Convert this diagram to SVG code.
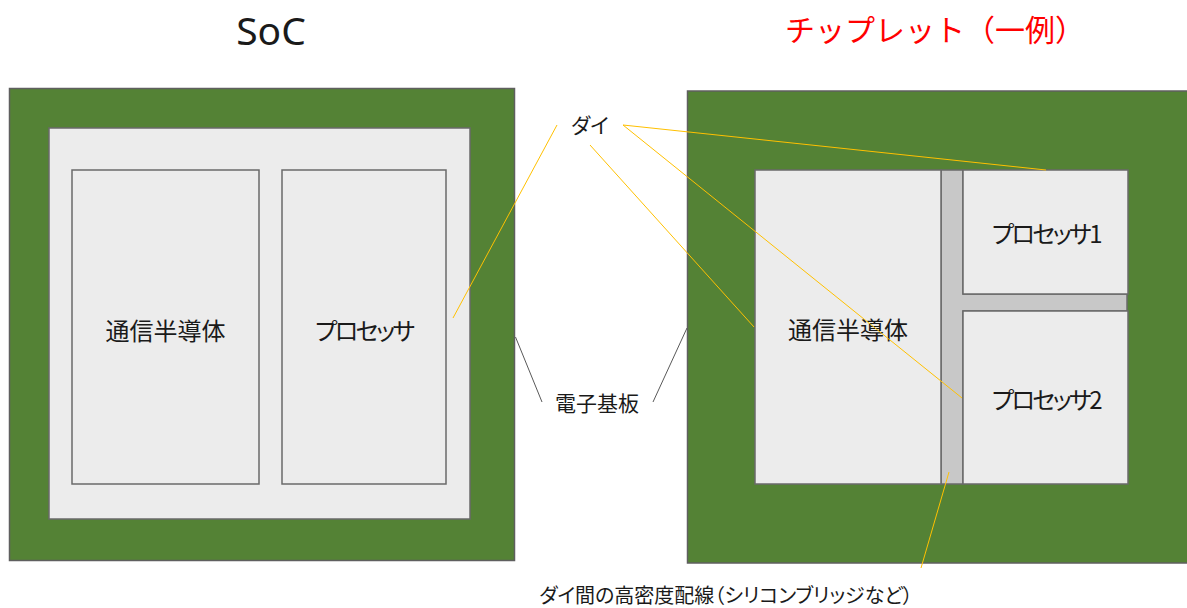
<svg xmlns="http://www.w3.org/2000/svg" width="1187" height="608" viewBox="0 0 1187 608">
<style>
.board{fill:#548235;stroke:#5f5f5f;stroke-width:1.5}
.die{fill:#ececec;stroke:#6a6a6a;stroke-width:1.5}
.bridge{fill:#c8c8c8;stroke:#6a6a6a;stroke-width:1.5}
.t{font-family:"Noto Sans CJK JP","Noto Sans",sans-serif;fill:#1a1a1a;text-anchor:middle;dominant-baseline:central;font-feature-settings:"palt"}
.lbl{font-size:24px}
.kana{letter-spacing:-2.5px}
.note{font-size:21px}
.ldie{stroke:#ffc000;stroke-width:1;fill:none}
.lsub{stroke:#595959;stroke-width:1;fill:none}
</style>
<g id="title-soc"><text class="t" x="271" y="29" style="font-size:39px;font-family:'Noto Sans','Noto Sans CJK JP',sans-serif">SoC</text></g>
<g id="title-chiplet"><text class="t" x="935" y="28" style="font-size:30px;fill:#ff0000;font-feature-settings:normal">チップレット（一例）</text></g>

<g id="soc-board"><rect class="board" x="9.5" y="88.5" width="505" height="472"/></g>
<g id="soc-die"><rect class="die" x="49" y="128" width="421" height="391"/></g>
<g id="soc-comm"><rect class="die" x="72" y="170" width="187" height="314"/><text class="t lbl" x="165.5" y="329">通信半導体</text></g>
<g id="soc-proc"><rect class="die" x="282" y="170" width="164" height="314"/><text class="t lbl kana" x="364" y="329">プロセッサ</text></g>

<g id="chiplet-board"><rect class="board" x="687.5" y="91" width="505" height="472"/></g>
<g id="bridge"><path class="bridge" d="M941,170 H963 V294 H1127 V311 H963 V484 H941 Z"/></g>
<g id="chiplet-comm"><rect class="die" x="755" y="170" width="186" height="314"/><text class="t lbl" x="848" y="328">通信半導体</text></g>
<g id="chiplet-proc1"><rect class="die" x="963" y="170" width="165" height="124"/><text class="t lbl kana" x="1046" y="232">プロセッサ1</text></g>
<g id="chiplet-proc2"><rect class="die" x="963" y="311" width="165" height="173"/><text class="t lbl kana" x="1046" y="398">プロセッサ2</text></g>

<g id="label-die"><text class="t note" x="590" y="124">ダイ</text></g>
<g id="label-substrate"><text class="t note" x="597" y="402">電子基板</text></g>
<g id="label-bridge"><text class="t note" x="726" y="594" style="font-size:20px">ダイ間の高密度配線（シリコンブリッジなど）</text></g>

<g id="connectors">
<line class="ldie" x1="557" y1="125" x2="453" y2="318"/>
<line class="ldie" x1="623" y1="125" x2="1046" y2="170"/>
<line class="ldie" x1="623" y1="125" x2="962" y2="398"/>
<line class="ldie" x1="590" y1="145" x2="754" y2="327"/>
<line class="ldie" x1="949" y1="472" x2="921" y2="568"/>
<line class="lsub" x1="515.5" y1="337" x2="542" y2="402"/>
<line class="lsub" x1="687" y1="328" x2="653" y2="402"/>
</g>
</svg>
